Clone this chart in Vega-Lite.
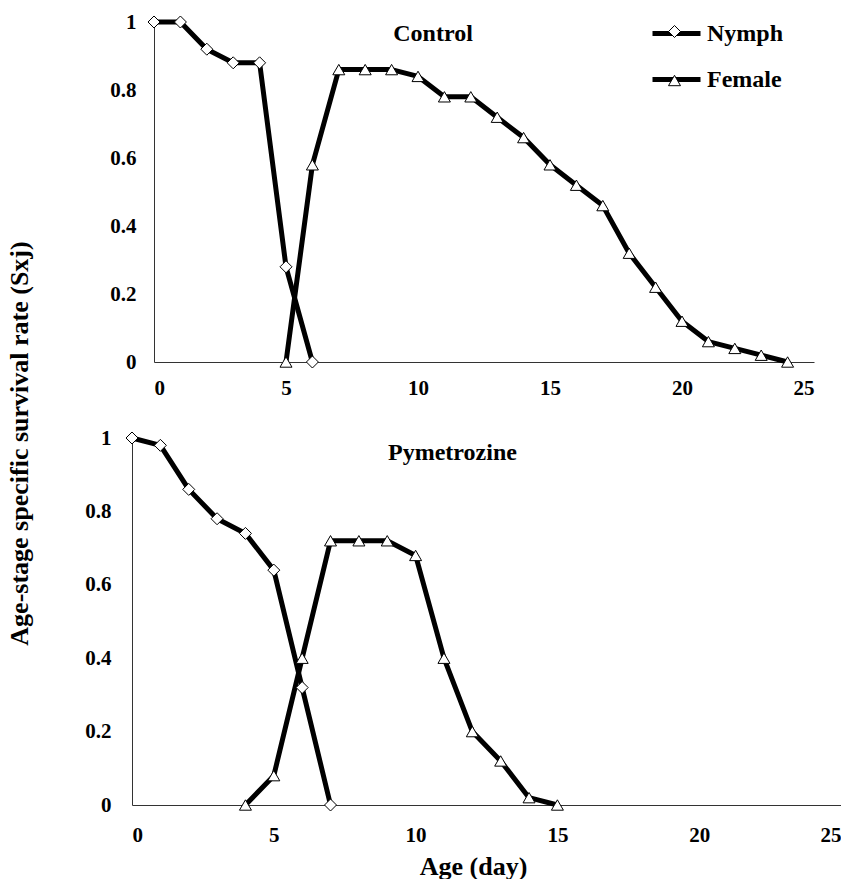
{
  "$schema": "https://vega.github.io/schema/vega-lite/v6.json",
  "background": "white",
  "padding": {"left": 5, "top": 7, "right": 0, "bottom": 0},
  "bounds": "flush",
  "spacing": 76,
  "config": {
    "font": "Liberation Serif, Times New Roman, serif",
    "view": {"stroke": null},
    "axis": {
      "grid": false,
      "ticks": false,
      "domainColor": "#333333",
      "domainWidth": 1,
      "labelFont": "Liberation Serif, Times New Roman, serif",
      "labelFontSize": 21,
      "labelFontWeight": "bold",
      "labelColor": "black",
      "titleFont": "Liberation Serif, Times New Roman, serif",
      "titleFontSize": 26,
      "titleFontWeight": "bold",
      "titleColor": "black"
    },
    "legend": {"padding": 0, "labelFont": "Liberation Serif, Times New Roman, serif", "labelColor": "black"}
  },
  "datasets": {
    "survival": [
      {"panel": "Control", "series": "Nymph", "day": 0, "sx": 1},
      {"panel": "Control", "series": "Nymph", "day": 1, "sx": 1},
      {"panel": "Control", "series": "Nymph", "day": 2, "sx": 0.92},
      {"panel": "Control", "series": "Nymph", "day": 3, "sx": 0.88},
      {"panel": "Control", "series": "Nymph", "day": 4, "sx": 0.88},
      {"panel": "Control", "series": "Nymph", "day": 5, "sx": 0.28},
      {"panel": "Control", "series": "Nymph", "day": 6, "sx": 0},
      {"panel": "Control", "series": "Female", "day": 5, "sx": 0},
      {"panel": "Control", "series": "Female", "day": 6, "sx": 0.58},
      {"panel": "Control", "series": "Female", "day": 7, "sx": 0.86},
      {"panel": "Control", "series": "Female", "day": 8, "sx": 0.86},
      {"panel": "Control", "series": "Female", "day": 9, "sx": 0.86},
      {"panel": "Control", "series": "Female", "day": 10, "sx": 0.84},
      {"panel": "Control", "series": "Female", "day": 11, "sx": 0.78},
      {"panel": "Control", "series": "Female", "day": 12, "sx": 0.78},
      {"panel": "Control", "series": "Female", "day": 13, "sx": 0.72},
      {"panel": "Control", "series": "Female", "day": 14, "sx": 0.66},
      {"panel": "Control", "series": "Female", "day": 15, "sx": 0.58},
      {"panel": "Control", "series": "Female", "day": 16, "sx": 0.52},
      {"panel": "Control", "series": "Female", "day": 17, "sx": 0.46},
      {"panel": "Control", "series": "Female", "day": 18, "sx": 0.32},
      {"panel": "Control", "series": "Female", "day": 19, "sx": 0.22},
      {"panel": "Control", "series": "Female", "day": 20, "sx": 0.12},
      {"panel": "Control", "series": "Female", "day": 21, "sx": 0.06},
      {"panel": "Control", "series": "Female", "day": 22, "sx": 0.04},
      {"panel": "Control", "series": "Female", "day": 23, "sx": 0.02},
      {"panel": "Control", "series": "Female", "day": 24, "sx": 0},
      {"panel": "Pymetrozine", "series": "Nymph", "day": 0, "sx": 1},
      {"panel": "Pymetrozine", "series": "Nymph", "day": 1, "sx": 0.98},
      {"panel": "Pymetrozine", "series": "Nymph", "day": 2, "sx": 0.86},
      {"panel": "Pymetrozine", "series": "Nymph", "day": 3, "sx": 0.78},
      {"panel": "Pymetrozine", "series": "Nymph", "day": 4, "sx": 0.74},
      {"panel": "Pymetrozine", "series": "Nymph", "day": 5, "sx": 0.64},
      {"panel": "Pymetrozine", "series": "Nymph", "day": 6, "sx": 0.32},
      {"panel": "Pymetrozine", "series": "Nymph", "day": 7, "sx": 0},
      {"panel": "Pymetrozine", "series": "Female", "day": 4, "sx": 0},
      {"panel": "Pymetrozine", "series": "Female", "day": 5, "sx": 0.08},
      {"panel": "Pymetrozine", "series": "Female", "day": 6, "sx": 0.4},
      {"panel": "Pymetrozine", "series": "Female", "day": 7, "sx": 0.72},
      {"panel": "Pymetrozine", "series": "Female", "day": 8, "sx": 0.72},
      {"panel": "Pymetrozine", "series": "Female", "day": 9, "sx": 0.72},
      {"panel": "Pymetrozine", "series": "Female", "day": 10, "sx": 0.68},
      {"panel": "Pymetrozine", "series": "Female", "day": 11, "sx": 0.4},
      {"panel": "Pymetrozine", "series": "Female", "day": 12, "sx": 0.2},
      {"panel": "Pymetrozine", "series": "Female", "day": 13, "sx": 0.12},
      {"panel": "Pymetrozine", "series": "Female", "day": 14, "sx": 0.02},
      {"panel": "Pymetrozine", "series": "Female", "day": 15, "sx": 0}
    ],
    "panels": [
      {"panel": "Control"},
      {"panel": "Pymetrozine"}
    ]
  },
  "resolve": {"scale": {"color": "independent", "shape": "independent"}},
  "vconcat": [
    {
      "width": 682,
      "height": 340,
      "layer": [
        {
          "data": {"name": "survival"},
          "transform": [{"filter": "datum.panel === 'Control'"}],
          "mark": {"type": "line", "strokeWidth": 5, "strokeJoin": "round"},
          "encoding": {
            "x": {
              "field": "day", "type": "quantitative",
              "scale": {"domain": [0, 25], "nice": false, "rangeMin": 22, "rangeMax": 682},
              "axis": {"values": [0, 5, 10, 15, 20, 25], "title": null, "labelPadding": 15}
            },
            "y": {
              "field": "sx", "type": "quantitative",
              "scale": {"domain": [0, 1], "nice": false},
              "axis": {"values": [0, 0.2, 0.4, 0.6, 0.8, 1], "format": ".1~f", "title": null, "offset": -22, "labelPadding": 18}
            },
            "color": {
              "field": "series", "type": "nominal", "sort": "descending",
              "scale": {"range": ["black", "black"]},
              "legend": {
                "title": null, "orient": "none", "legendX": 518, "legendY": -15,
                "symbolType": "stroke", "symbolStrokeWidth": 5, "symbolSize": 2304,
                "labelFontSize": 24, "labelFontWeight": "bold", "labelOffset": 4, "rowPadding": 7
              }
            }
          }
        },
        {
          "data": {"name": "survival"},
          "transform": [{"filter": "datum.panel === 'Control' && datum.sx >= 0"}],
          "mark": {"type": "point", "filled": false, "color": "black", "fill": "white", "stroke": "black", "strokeWidth": 1, "size": 144, "opacity": 1},
          "encoding": {
            "x": {"field": "day", "type": "quantitative"},
            "y": {"field": "sx", "type": "quantitative"},
            "shape": {
              "field": "series", "type": "nominal", "sort": "descending",
              "scale": {"range": ["diamond", "triangle-up"]},
              "legend": {
                "title": null, "orient": "none", "legendX": 536, "legendY": 3,
                "symbolSize": 144, "symbolFillColor": "white", "symbolStrokeWidth": 1, "symbolOpacity": 1,
                "labelExpr": "''", "labelFontSize": 12, "labelOffset": 0, "rowPadding": 33,
                "encode": {"symbols": {"update": {"fill": {"value": "white"}, "stroke": {"value": "black"}, "strokeWidth": {"value": 1}}}}
              }
            }
          }
        },
        {
          "data": {"name": "panels"},
          "transform": [{"filter": "datum.panel === 'Control'"}],
          "mark": {"type": "text", "fontSize": 24, "fontWeight": "bold", "color": "black", "align": "center", "baseline": "alphabetic"},
          "encoding": {
            "x": {"datum": 10.57},
            "y": {"datum": 0.945},
            "text": {"field": "panel", "type": "nominal"}
          }
        }
      ]
    },
    {
      "width": 709,
      "height": 367,
      "layer": [
        {
          "data": {"name": "survival"},
          "transform": [{"filter": "datum.panel === 'Pymetrozine'"}],
          "mark": {"type": "line", "strokeWidth": 5, "strokeJoin": "round"},
          "encoding": {
            "x": {
              "field": "day", "type": "quantitative",
              "scale": {"domain": [0, 25], "nice": false},
              "axis": {"values": [0, 5, 10, 15, 20, 25], "title": "Age (day)", "labelPadding": 19, "titleX": 341, "titleY": 61, "titleAlign": "center", "titleBaseline": "middle"}
            },
            "y": {
              "field": "sx", "type": "quantitative",
              "scale": {"domain": [0, 1], "nice": false},
              "axis": {"values": [0, 0.2, 0.4, 0.6, 0.8, 1], "format": ".1~f", "title": "Age-stage specific survival rate (Sxj)", "labelPadding": 21, "titleX": -113, "titleY": 5, "titleAngle": 270, "titleAlign": "center", "titleBaseline": "middle"}
            },
            "color": {
              "field": "series", "type": "nominal", "sort": "descending",
              "scale": {"range": ["black", "black"]},
              "legend": null
            }
          }
        },
        {
          "data": {"name": "survival"},
          "transform": [{"filter": "datum.panel === 'Pymetrozine' && datum.sx >= 0"}],
          "mark": {"type": "point", "filled": false, "color": "black", "fill": "white", "stroke": "black", "strokeWidth": 1, "size": 144, "opacity": 1},
          "encoding": {
            "x": {"field": "day", "type": "quantitative"},
            "y": {"field": "sx", "type": "quantitative"},
            "shape": {
              "field": "series", "type": "nominal", "sort": "descending",
              "scale": {"range": ["diamond", "triangle-up"]},
              "legend": null
            }
          }
        },
        {
          "data": {"name": "panels"},
          "transform": [{"filter": "datum.panel === 'Pymetrozine'"}],
          "mark": {"type": "text", "fontSize": 24, "fontWeight": "bold", "color": "black", "align": "center", "baseline": "alphabetic"},
          "encoding": {
            "x": {"datum": 11.3},
            "y": {"datum": 0.94},
            "text": {"field": "panel", "type": "nominal"}
          }
        }
      ]
    }
  ]
}
